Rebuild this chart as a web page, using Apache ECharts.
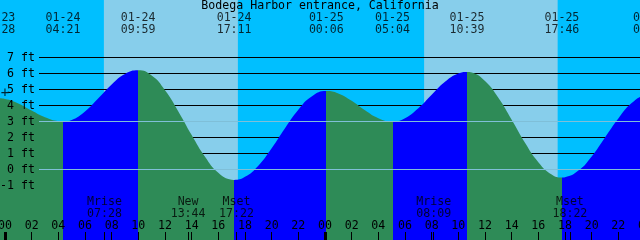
<!DOCTYPE html>
<html>
<head>
<meta charset="utf-8">
<title>Bodega Harbor entrance, California</title>
<script src="https://cdn.jsdelivr.net/npm/echarts@6/dist/echarts.min.js"></script>
<style>
html,body{margin:0;padding:0;background:#fff;}
#tide{width:640px;height:240px;}
</style>
</head>
<body>
<div id="tide"></div>
<script>
// tide curve, hours counted from 01-24 00:00, height in ft
var tideHours=[-1,-0.53,0,1,2,3,4,4.35,5,6,7,8,9,9.98,11,12,13,14,15,16,17,17.18,18,19,20,21,22,23,24.1,
  25,26,27,28,29.07,30,31,32,33,34,34.65,35,36,37,38,39,40,41,41.77,42,43,44,45,46,47,48,48.4];
var tideFeet=[4.42,4.45,4.41,4.13,3.68,3.26,3.02,3.0,3.10,3.63,4.45,5.32,5.97,6.2,5.87,4.95,3.63,2.15,0.79,-0.21,-0.64,-0.65,-0.46,0.24,1.33,2.58,3.73,4.56,4.9,
  4.75,4.29,3.70,3.21,3.0,3.21,3.83,4.67,5.48,6.0,6.1,6.06,5.53,4.48,3.11,1.67,0.46,-0.31,-0.5,-0.48,-0.07,0.82,2.0,3.19,4.15,4.65,4.7];

// high / low water labels along the top
var eventDates=['01-23','01-24','01-24','01-24','01-25','01-25','01-25','01-25','01-26'];
var eventTimes=['23:28','04:21','09:59','17:11','00:06','05:04','10:39','17:46','00:24'];
var eventKind=['H','L','H','L','H','L','H','L','H'];

// moon events along the bottom
var moonNames=['Mrise','New','Mset','Mrise','Mset'];
var moonDays=[0,0,0,1,1];
var moonTimes=['07:28','13:44','17:22','08:09','18:22'];

// daylight
var sunDays=[0,1];
var sunRise=['07:25','07:26'];
var sunSet=['17:28','17:27'];

var hourTicks=[0,2,4,6,8,10,12,14,16,18,20,22,24,26,28,30,32,34,36,38,40,42,44,46,48];
var dayTicks=[0,24,48];
var footLabels=[-1,0,1,2,3,4,5,6,7];
var markFeet=[3,0];
var nowMark=[0,4.75];

var FONT='DejaVu Sans Mono';
var FS=11.6;
var riseColor='#0000ff',fallColor='#2e8b57';
var nightColor='#00bfff',dayColor='#87ceeb';

function toHour(day,s){
  var p=s.split(':');
  return day*24+(+p[0])+(+p[1])/60;
}
function pad(n){return (n<10?'0':'')+n;}

var eventHours=[];
for(var i=0;i<eventTimes.length;i++){
  eventHours.push(toHour(parseInt(eventDates[i].slice(3),10)-24,eventTimes[i]));
}
var moonHours=[];
for(var i=0;i<moonTimes.length;i++){
  moonHours.push(toHour(moonDays[i],moonTimes[i]));
}
var dayBands=[];
for(var i=0;i<sunDays.length;i++){
  dayBands.push([{xAxis:toHour(sunDays[i],sunRise[i])},{xAxis:toHour(sunDays[i],sunSet[i])}]);
}

// rising water before a high is blue, falling is green
var pieces=[];
for(var i=0;i<=eventHours.length;i++){
  var p={};
  if(i>0) p.gte=eventHours[i-1];
  if(i<eventHours.length) p.lt=eventHours[i];
  var k=i<eventKind.length?eventKind[i]:(eventKind[i-1]=='H'?'L':'H');
  p.color=k=='H'?riseColor:fallColor;
  pieces.push(p);
}

var lineStart=2.55,lineEnd=48;
var topLabelFt=9.125,moonLabelFt=-2.375;

var blackLines=footLabels.map(function(v){return [{coord:[lineStart,v]},{coord:[lineEnd,v]}];});
var lightLines=markFeet.map(function(v){return [{coord:[lineStart,v]},{coord:[lineEnd,v]}];});

var textStyle={color:'#000',fontFamily:FONT,fontSize:FS,lineHeight:12};

function bottomAxis(ticks,width,labels){
  return {
    type:'value',min:-0.75,max:48,position:'bottom',z:10,
    axisLine:{show:false,onZero:false},splitLine:{show:false},
    axisTick:{inside:true,length:8,customValues:ticks,lineStyle:{color:'#000',width:width}},
    axisLabel:labels?{inside:true,margin:14,verticalAlign:'middle',customValues:ticks,color:'#000',fontFamily:FONT,fontSize:FS,
      formatter:function(v){return pad(v%24);}}:{show:false}
  };
}

var chart=echarts.init(document.getElementById('tide'));
chart.setOption({
  animation:false,
  backgroundColor:nightColor,
  title:{text:'Bodega Harbor entrance, California',left:'center',top:0,padding:0,
    textStyle:{color:'#000',fontFamily:FONT,fontSize:FS,fontWeight:'normal'}},
  grid:{left:-5,right:-5,top:0,bottom:0,containLabel:false,outerBoundsMode:'none'},
  xAxis:[bottomAxis(hourTicks,1,true),bottomAxis(dayTicks,3,false),bottomAxis(moonHours,1,false)],
  yAxis:{type:'value',min:-4.40625,max:10.59375,z:10,
    axisLine:{show:false,onZero:false},splitLine:{show:false},axisTick:{show:false},
    axisLabel:{inside:true,margin:40,align:'right',customValues:footLabels,formatter:'{value} ft',
      color:'#000',fontFamily:FONT,fontSize:FS}},
  visualMap:{type:'piecewise',show:false,dimension:0,seriesIndex:1,pieces:pieces},
  series:[
    {type:'line',data:[],z:1,silent:true,
      markArea:{silent:true,z:0,itemStyle:{color:dayColor},data:dayBands},
      markLine:{silent:true,z:1,symbol:['none','none'],label:{show:false},
        lineStyle:{color:'#000',width:1,type:'solid'},emphasis:{disabled:true},data:blackLines}},
    {type:'line',z:2,silent:true,showSymbol:false,smooth:true,
      data:tideHours.map(function(h,i){return [h,tideFeet[i]];}),
      lineStyle:{width:0,opacity:0},areaStyle:{opacity:1,origin:'start'},
      markLine:{silent:true,z:5,symbol:['none','none'],label:{show:false},
        lineStyle:{color:'#7fbfd8',width:1,type:'solid'},emphasis:{disabled:true},data:lightLines}},
    {type:'scatter',z:6,clip:false,silent:true,symbolSize:1,itemStyle:{color:'rgba(0,0,0,0)'},
      data:eventHours.map(function(h){return [h,topLabelFt];}),
      label:Object.assign({show:true,position:'inside',
        formatter:function(p){return eventDates[p.dataIndex]+'\n'+eventTimes[p.dataIndex];}},textStyle)},
    {type:'scatter',z:6,clip:false,silent:true,symbolSize:1,itemStyle:{color:'rgba(0,0,0,0)'},
      data:moonHours.map(function(h){return [h,moonLabelFt];}),
      label:Object.assign({show:true,position:'inside',
        formatter:function(p){return moonNames[p.dataIndex]+'\n'+moonTimes[p.dataIndex];}},textStyle)},
    {type:'scatter',z:6,clip:false,silent:true,symbolSize:1,itemStyle:{color:'rgba(0,0,0,0)'},
      data:[nowMark],
      label:{show:true,position:'inside',formatter:'+',color:'#000',fontFamily:FONT,fontSize:14}}
  ]
});
</script>
</body>
</html>
